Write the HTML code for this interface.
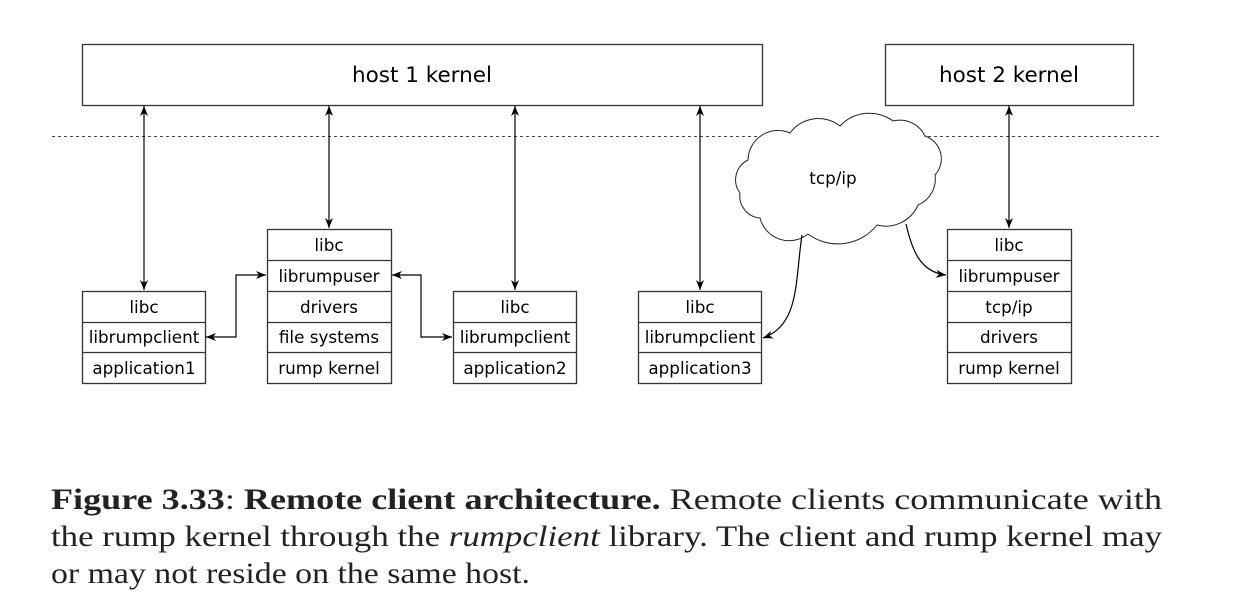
<!DOCTYPE html>
<html><head><meta charset="utf-8"><style>
html,body{margin:0;padding:0;background:#fff;}
svg{display:block;}
.d{font-family:"DejaVu Sans","Liberation Sans",sans-serif;font-size:16.8px;fill:#000;}
.c{font-family:"Liberation Serif",serif;font-size:30px;fill:#222;}
</style></head><body>
<svg width="1246" height="607" viewBox="0 0 1246 607" xmlns="http://www.w3.org/2000/svg">
<defs>
<marker id="a" viewBox="0 0 10 10" refX="10" refY="5" markerWidth="10" markerHeight="10" markerUnits="userSpaceOnUse" orient="auto-start-reverse">
<path d="M0,1 L10,5 L0,9 L3,5 Z" fill="#000"/></marker>
</defs>
<g fill="none" stroke="#333" stroke-width="1.3">
<rect x="82.5" y="44.5" width="680" height="61"/>
<rect x="885.5" y="44.5" width="248" height="61"/>
</g>
<text class="d" x="422" y="82" text-anchor="middle" style="font-size:21.5px">host 1 kernel</text>
<text class="d" x="1009" y="82" text-anchor="middle" style="font-size:21.5px">host 2 kernel</text>
<line x1="52" y1="136.5" x2="1162" y2="136.5" stroke="#444" stroke-width="1" stroke-dasharray="3,3"/>
<path d="M748,160 A30,30 0 0 1 790,133 A35,35 0 0 1 840,126 A40,40 0 0 1 893,121 A28,28 0 0 1 925,136 A24,24 0 0 1 935,175 A28,28 0 0 1 918,205 A35,35 0 0 1 877,225 A50,50 0 0 1 808,234 A30,30 0 0 1 760,218 A22,22 0 0 1 740,193 A22,22 0 0 1 748,160 Z" fill="#fff" stroke="#222" stroke-width="1"/>
<text class="d" x="833" y="184" text-anchor="middle">tcp/ip</text>
<g stroke="#000" stroke-width="1.2" fill="none">
<line x1="144" y1="106" x2="144" y2="290" marker-start="url(#a)" marker-end="url(#a)"/>
<line x1="329" y1="106" x2="329" y2="228" marker-start="url(#a)" marker-end="url(#a)"/>
<line x1="515" y1="106" x2="515" y2="290" marker-start="url(#a)" marker-end="url(#a)"/>
<line x1="700" y1="106" x2="700" y2="290" marker-start="url(#a)" marker-end="url(#a)"/>
<line x1="1009" y1="106" x2="1009" y2="228" marker-start="url(#a)" marker-end="url(#a)"/>
<polyline points="206,337 236,337 236,275 266,275" marker-start="url(#a)" marker-end="url(#a)"/>
<polyline points="392,275 421,275 421,337 452,337" marker-start="url(#a)" marker-end="url(#a)"/>
<path d="M802,235 C795,280 800,325 763,338" marker-end="url(#a)"/>
<path d="M906,224 C912,250 920,272 946,275" marker-end="url(#a)"/>
</g>
<g fill="none" stroke="#333" stroke-width="1.3">
<rect x="82.5" y="291.5" width="123" height="92"/><line x1="82" y1="322.5" x2="206" y2="322.5"/><line x1="82" y1="352.5" x2="206" y2="352.5"/>
<rect x="267.5" y="229.5" width="124" height="154"/><line x1="267" y1="260.5" x2="392" y2="260.5"/><line x1="267" y1="291.5" x2="392" y2="291.5"/><line x1="267" y1="322.5" x2="392" y2="322.5"/><line x1="267" y1="352.5" x2="392" y2="352.5"/>
<rect x="453.5" y="291.5" width="123" height="92"/><line x1="453" y1="322.5" x2="577" y2="322.5"/><line x1="453" y1="352.5" x2="577" y2="352.5"/>
<rect x="638.5" y="291.5" width="123" height="92"/><line x1="638" y1="322.5" x2="762" y2="322.5"/><line x1="638" y1="352.5" x2="762" y2="352.5"/>
<rect x="947.5" y="229.5" width="124" height="154"/><line x1="947" y1="260.5" x2="1072" y2="260.5"/><line x1="947" y1="291.5" x2="1072" y2="291.5"/><line x1="947" y1="322.5" x2="1072" y2="322.5"/><line x1="947" y1="352.5" x2="1072" y2="352.5"/>
</g>
<g class="d" text-anchor="middle">
<text x="144" y="313">libc</text><text x="144" y="343">librumpclient</text><text x="144" y="374">application1</text>
<text x="329" y="251">libc</text><text x="329" y="282">librumpuser</text><text x="329" y="313">drivers</text><text x="329" y="343">file systems</text><text x="329" y="374">rump kernel</text>
<text x="515" y="313">libc</text><text x="515" y="343">librumpclient</text><text x="515" y="374">application2</text>
<text x="700" y="313">libc</text><text x="700" y="343">librumpclient</text><text x="700" y="374">application3</text>
<text x="1009" y="251">libc</text><text x="1009" y="282">librumpuser</text><text x="1009" y="313">tcp/ip</text><text x="1009" y="343">drivers</text><text x="1009" y="374">rump kernel</text>
</g>
<text class="c" x="51" y="509" textLength="1111" lengthAdjust="spacingAndGlyphs"><tspan font-weight="bold">Figure 3.33</tspan>:   <tspan font-weight="bold">Remote client architecture.</tspan> Remote clients communicate with</text>
<text class="c" x="51" y="546" textLength="1111" lengthAdjust="spacingAndGlyphs">the rump kernel through the <tspan font-style="italic">rumpclient</tspan> library.  The client and rump kernel may</text>
<text class="c" x="51" y="583" textLength="479" lengthAdjust="spacingAndGlyphs">or may not reside on the same host.</text>
</svg>
</body></html>
